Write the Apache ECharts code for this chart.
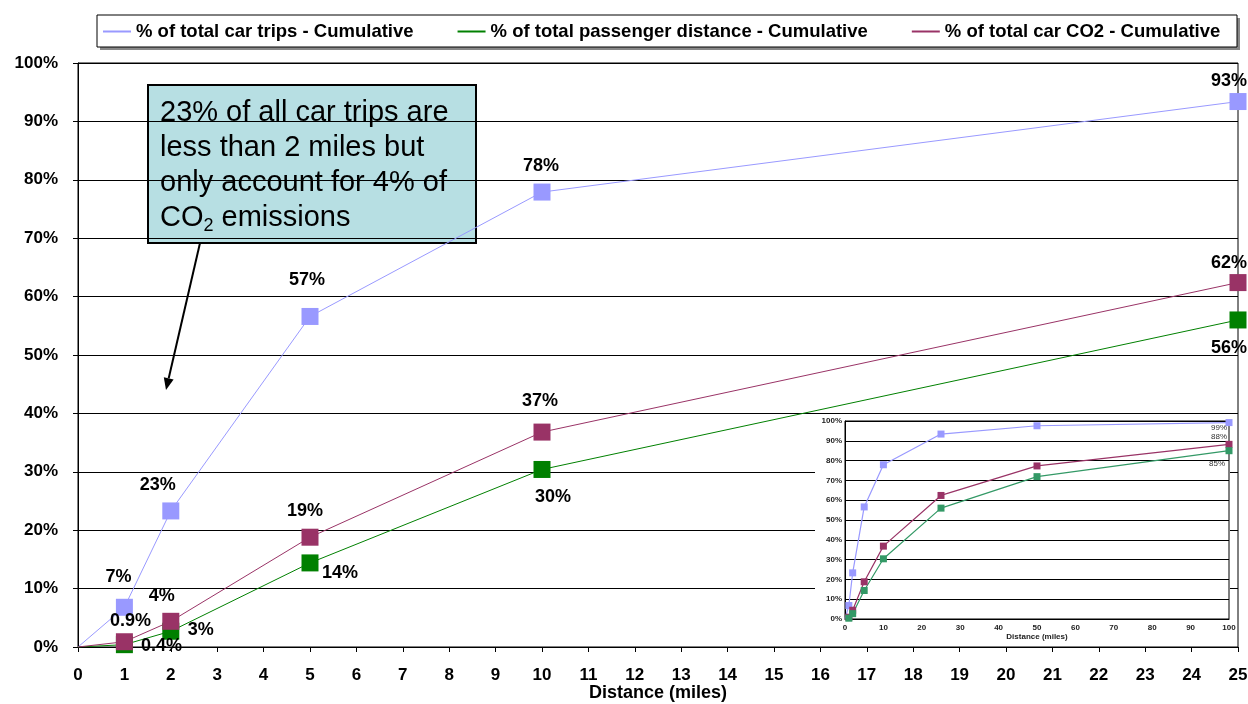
<!DOCTYPE html>
<html>
<head>
<meta charset="utf-8">
<script src="https://cdn.jsdelivr.net/npm/echarts@6/dist/echarts.min.js"></script>
<style>
  html, body { margin: 0; padding: 0; background: #fff; }
  #chart { width: 1248px; height: 704px; }
</style>
</head>
<body>
<div id="chart"></div>
<script>
// Trip distance bands (miles) and cumulative shares (%)
const distances = [0, 1, 2, 5, 10, 25];
const tripsCum = [0, 6.8, 23.3, 56.6, 77.9, 93.4];
const passengerCum = [0, 0.4, 2.7, 14.4, 30.4, 56.0];
const co2Cum = [0, 0.9, 4.4, 18.8, 36.8, 62.4];

// Longer distances, shown only in the small full-range chart
const longDistances = [50, 100];
const tripsCumLong = [97.6, 99.2];
const passengerCumLong = [71.9, 85.0];
const co2CumLong = [77.3, 88.2];

const seriesNames = [
  '% of total car trips - Cumulative',
  '% of total passenger distance - Cumulative',
  '% of total car CO2 - Cumulative'
];

const FONT = '"Liberation Sans", Arial, sans-serif';
const COLORS = { trips: '#9999FF', passenger: '#008000', co2: '#993366', passengerSmall: '#339966' };

// Label offsets (px) from each marker centre, by point index
const tripsLabelOffsets = [null, [-6, -30], [-13, -26], [-3, -36], [-1, -26], [-9, -21]];
const co2LabelOffsets = [null, [6, -21], [-9, -25], [-5, -26], [-2, -31], [-9, -20]];
const passengerLabelOffsets = [null, [37, 1], [30, -1], [30, 10], [11, 28], [-9, 28]];

const pct = v => (v < 1 ? v.toFixed(1) : Math.round(v)) + '%';

function mainData(values, offsets) {
  return distances.map((d, i) => {
    const item = { value: [d, values[i]] };
    if (i === 0) {
      item.symbol = 'none';
      item.label = { show: false };
    } else {
      item.label = { offset: offsets[i] };
    }
    return item;
  });
}

function fullData(values, longValues, lastOffset) {
  const xs = distances.concat(longDistances);
  const ys = values.concat(longValues);
  return xs.map((d, i) => {
    const item = { value: [d, ys[i]] };
    if (i === 0) item.symbol = 'none';
    if (i === xs.length - 1) item.label = { show: true, offset: lastOffset };
    return item;
  });
}

function mainSeries(name, color, values, offsets) {
  return {
    name: name,
    type: 'line',
    xAxisIndex: 0, yAxisIndex: 0,
    data: mainData(values, offsets),
    symbol: 'rect', symbolSize: 17,
    lineStyle: { color: color, width: 1 },
    itemStyle: { color: color },
    label: {
      show: true, position: 'inside', formatter: p => pct(p.value[1]),
      fontFamily: FONT, fontWeight: 'bold', fontSize: 18, color: '#000'
    },
    emphasis: { disabled: true },
    animation: false, z: 3
  };
}

function smallSeries(name, color, values, longValues, lastOffset) {
  return {
    name: name,
    type: 'line',
    xAxisIndex: 1, yAxisIndex: 1,
    data: fullData(values, longValues, lastOffset),
    symbol: 'rect', symbolSize: 7,
    lineStyle: { color: color, width: 1.2 },
    itemStyle: { color: color },
    label: {
      show: false, position: 'inside', formatter: p => pct(p.value[1]),
      fontFamily: FONT, fontSize: 8, color: '#333'
    },
    emphasis: { disabled: true },
    animation: false, z: 12
  };
}

const chart = echarts.init(document.getElementById('chart'), null, { renderer: 'canvas' });

const option = {
  backgroundColor: '#fff',
  animation: false,
  textStyle: { fontFamily: FONT },
  legend: {
    data: seriesNames,
    left: 103, top: 22,
    icon: 'rect', itemWidth: 28, itemHeight: 2, itemGap: 44,
    textStyle: { fontFamily: FONT, fontWeight: 'bold', fontSize: 18.5, color: '#000' },
    padding: 0,
    selectedMode: false,
    z: 20
  },
  grid: [
    { left: 78, right: 10, top: 63, bottom: 57, outerBoundsMode: 'none', containLabel: false,
      show: true, borderColor: '#000', borderWidth: 1, backgroundColor: 'transparent' },
    { left: 845, right: 19, top: 421, bottom: 85, outerBoundsMode: 'none', containLabel: false,
      show: true, borderColor: '#000', borderWidth: 1, backgroundColor: 'transparent', z: 11 }
  ],
  xAxis: [
    {
      type: 'value', gridIndex: 0, min: 0, max: 25, interval: 1,
      name: 'Distance (miles)', nameLocation: 'middle', nameGap: 37, nameMoveOverlap: false,
      nameTextStyle: { fontFamily: FONT, fontWeight: 'bold', fontSize: 18, color: '#000' },
      axisLine: { show: true, lineStyle: { color: '#000', width: 1 } },
      axisTick: { show: true, inside: false, length: 5, lineStyle: { color: '#000' } },
      axisLabel: { margin: 20, fontFamily: FONT, fontWeight: 'bold', fontSize: 17, color: '#000' },
      splitLine: { show: false }
    },
    {
      type: 'value', gridIndex: 1, min: 0, max: 100, interval: 10,
      name: 'Distance (miles)', nameLocation: 'middle', nameGap: 14, nameMoveOverlap: false,
      nameTextStyle: { fontFamily: FONT, fontWeight: 'bold', fontSize: 8, color: '#222' },
      axisLine: { show: true, lineStyle: { color: '#000', width: 1 } },
      axisTick: { show: false },
      axisLabel: { margin: 5, fontFamily: FONT, fontWeight: 'bold', fontSize: 8, color: '#222' },
      splitLine: { show: false },
      z: 11
    }
  ],
  yAxis: [
    {
      type: 'value', gridIndex: 0, min: 0, max: 100, interval: 10,
      axisLine: { show: true, lineStyle: { color: '#000', width: 1 } },
      axisTick: { show: true, inside: false, length: 5, lineStyle: { color: '#000' } },
      axisLabel: { margin: 20, formatter: '{value}%', fontFamily: FONT, fontWeight: 'bold', fontSize: 17, color: '#000' },
      splitLine: { show: true, lineStyle: { color: '#000', width: 1 } }
    },
    {
      type: 'value', gridIndex: 1, min: 0, max: 100, interval: 10,
      axisLine: { show: true, lineStyle: { color: '#000', width: 1 } },
      axisTick: { show: false },
      axisLabel: { margin: 3, formatter: '{value}%', fontFamily: FONT, fontWeight: 'bold', fontSize: 8, color: '#222' },
      splitLine: { show: true, lineStyle: { color: '#000', width: 1 } },
      z: 11
    }
  ],
  series: [
    mainSeries(seriesNames[0], COLORS.trips, tripsCum, tripsLabelOffsets),
    mainSeries(seriesNames[1], COLORS.passenger, passengerCum, passengerLabelOffsets),
    mainSeries(seriesNames[2], COLORS.co2, co2Cum, co2LabelOffsets),
    smallSeries('Trips (0-100 miles)', COLORS.trips, tripsCum, tripsCumLong, [-10, 5]),
    smallSeries('CO2 (0-100 miles)', COLORS.co2, co2Cum, co2CumLong, [-10, -8]),
    smallSeries('Passenger distance (0-100 miles)', COLORS.passengerSmall, passengerCum, passengerCumLong, [-12, 13])
  ],
  graphic: [
    // legend frame with drop shadow
    { type: 'rect', shape: { x: 100, y: 18, width: 1140, height: 32 }, style: { fill: '#888' }, z: 15, silent: true },
    { type: 'rect', shape: { x: 97, y: 15, width: 1140, height: 32 }, style: { fill: '#fff', stroke: '#000', lineWidth: 1 }, z: 16, silent: true },
    // white panel behind the full-range chart
    { type: 'rect', shape: { x: 815, y: 415, width: 415, height: 230 }, style: { fill: '#fff' }, z: 10, silent: true },
    // callout
    {
      type: 'group', z: 30, silent: true,
      children: [
        { type: 'rect', shape: { x: 148, y: 85, width: 328, height: 158 }, style: { fill: '#B7DFE3', stroke: '#000', lineWidth: 2 } },
        {
          type: 'text', x: 160, y: 95,
          style: {
            text: '23% of all car trips are\nless than 2 miles but\nonly account for 4% of\nCO{sub|2} emissions',
            fontFamily: FONT, fontSize: 29, lineHeight: 35, fill: '#000',
            rich: { sub: { fontSize: 18, verticalAlign: 'bottom', padding: [14, 0, 0, 0], fontFamily: FONT, fill: '#000' } }
          }
        },
        { type: 'line', shape: { x1: 200, y1: 243, x2: 168.7, y2: 378.3 }, style: { stroke: '#000', lineWidth: 2 } },
        { type: 'polygon', shape: { points: [[166, 390], [173.6, 379.4], [163.8, 377.2]] }, style: { fill: '#000' } }
      ]
    }
  ]
};

chart.setOption(option);
</script>
</body>
</html>
